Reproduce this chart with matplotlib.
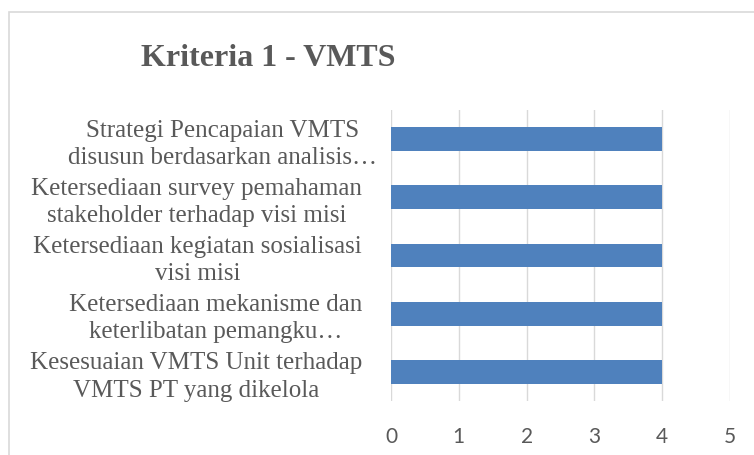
import matplotlib
matplotlib.use("Agg")
import matplotlib.pyplot as plt
from matplotlib.patches import Rectangle

# categories listed bottom -> top (Excel order)
categories = [
    "Kesesuaian VMTS Unit terhadap\nVMTS PT yang dikelola",
    "Ketersediaan mekanisme dan\nketerlibatan pemangku…",
    "Ketersediaan kegiatan sosialisasi\nvisi misi",
    "Ketersediaan survey pemahaman\nstakeholder terhadap visi misi",
    "Strategi Pencapaian VMTS\ndisusun berdasarkan analisis…",
]
values = [4, 4, 4, 4, 4]
xticks = [0, 1, 2, 3, 4, 5]

text_col = "#595959"
grid_col = "#D9D9D9"
bar_col = "#4F81BD"

fig = plt.figure(figsize=(7.54, 4.55), dpi=100)
fig.patch.set_facecolor("white")

# chart area border
fig.patches.append(Rectangle((9 / 754, -0.1), 1.2, 1 - 12 / 455 + 0.1,
                             transform=fig.transFigure, fill=False,
                             edgecolor=grid_col, linewidth=1.2))

ax = fig.add_axes([391 / 754, 1 - 401 / 455, 339 / 754, 291 / 455])
ypos = range(len(categories))
ax.barh(ypos, values, height=0.41, color=bar_col, zorder=3)

ax.set_xlim(0, 5)
ax.set_ylim(-0.5, len(categories) - 0.5)
ax.set_xticks(xticks)
ax.set_xticklabels([str(t) for t in xticks], fontfamily="Lato",
                   fontsize=15, color=text_col)
ax.set_yticks(list(ypos))
ax.set_yticklabels(categories, fontfamily="Liberation Serif", fontsize=18,
                   color=text_col, multialignment="center", linespacing=1.3)
ax.tick_params(axis="y", length=0, pad=21)
ax.tick_params(axis="x", length=0, pad=19)
ax.grid(axis="x", color=grid_col, linewidth=1, zorder=0)
for s in ax.spines.values():
    s.set_visible(False)
# truncated top label sits closer to the axis, as in the original
ax.get_yticklabels()[-1].set_x(15 / 339)

fig.text(268 / 754, 1 - 58 / 455, "Kriteria 1 - VMTS", ha="center",
         va="center", fontsize=23, fontweight="bold",
         fontfamily="Liberation Serif", color=text_col)

fig.savefig("out.png", dpi=100)
